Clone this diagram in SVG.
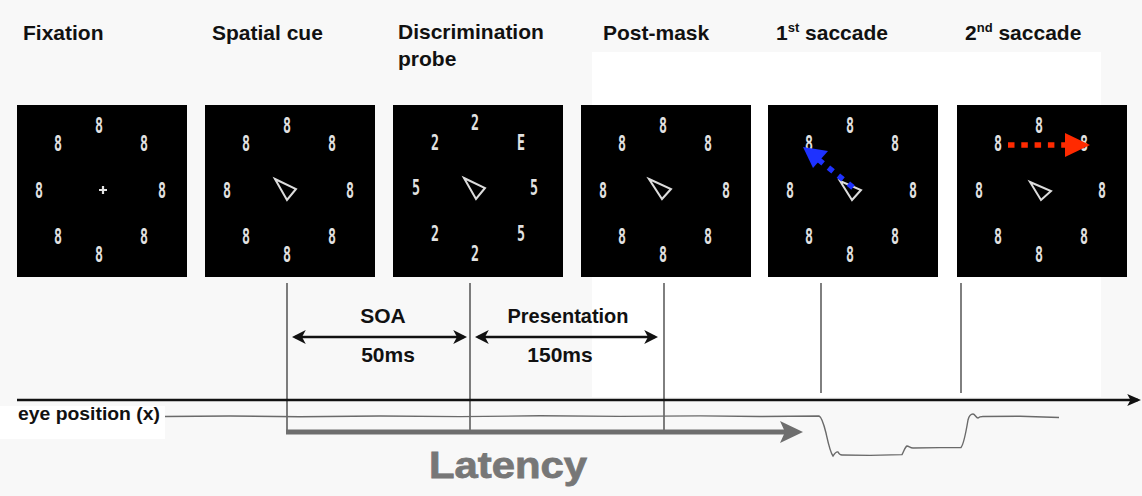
<svg xmlns="http://www.w3.org/2000/svg" width="1142" height="496" viewBox="0 0 1142 496">
<style>
.hdr{font-family:"Liberation Sans",Arial,sans-serif;font-weight:bold;font-size:21px;fill:#111}
.lbl{font-family:"Liberation Sans",Arial,sans-serif;font-weight:bold;font-size:21px;fill:#111;text-anchor:middle}
.dg{font-family:"DejaVu Sans Mono","Liberation Mono",monospace;font-weight:bold;font-size:21px;fill:#e2e2e2;text-anchor:middle}
.panel{fill:#000}
.cue{fill:none;stroke:#dcdcdc;stroke-width:2;stroke-linejoin:miter}
.vl{stroke:#2a2a2a;stroke-width:1.2}
</style>
<defs>
<marker id="hd" markerUnits="userSpaceOnUse" markerWidth="14" markerHeight="14" viewBox="0 0 13 13" refX="10" refY="6.5" orient="auto-start-reverse">
<path d="M0,0 L13,6.5 L0,13 L3.5,6.5 z" fill="#111"/>
</marker>
<marker id="ax" markerUnits="userSpaceOnUse" markerWidth="14" markerHeight="12" viewBox="0 0 13 11" refX="10" refY="5.5" orient="auto">
<path d="M0,0 L13,5.5 L0,11 L3,5.5 z" fill="#111"/>
</marker>
</defs>
<rect width="1142" height="496" fill="#f8f8f8"/>
<rect x="592" y="52" width="509" height="345" fill="#ffffff"/>
<rect x="0" y="406" width="165" height="33" fill="#ffffff"/>

<g id="headers">
<text class="hdr" x="23" y="40">Fixation</text>
<text class="hdr" x="212" y="40">Spatial cue</text>
<text class="hdr" x="398" y="39">Discrimination</text>
<text class="hdr" x="398" y="66">probe</text>
<text class="hdr" x="603" y="40">Post-mask</text>
<text class="hdr" x="776" y="40">1<tspan font-size="13" dy="-8">st</tspan><tspan dy="8"> saccade</tspan></text>
<text class="hdr" x="965" y="40">2<tspan font-size="13" dy="-8">nd</tspan><tspan dy="8"> saccade</tspan></text>
</g>

<g id="panel-fixation" transform="translate(17,105)">
<rect class="panel" width="170" height="172"/>
<text class="dg" x="82" y="28" textLength="8" lengthAdjust="spacingAndGlyphs">8</text>
<text class="dg" x="41" y="46" textLength="8" lengthAdjust="spacingAndGlyphs">8</text>
<text class="dg" x="127" y="46" textLength="8" lengthAdjust="spacingAndGlyphs">8</text>
<text class="dg" x="22" y="93" textLength="8" lengthAdjust="spacingAndGlyphs">8</text>
<text class="dg" x="145" y="93" textLength="8" lengthAdjust="spacingAndGlyphs">8</text>
<text class="dg" x="41" y="139" textLength="8" lengthAdjust="spacingAndGlyphs">8</text>
<text class="dg" x="127" y="139" textLength="8" lengthAdjust="spacingAndGlyphs">8</text>
<text class="dg" x="82" y="157" textLength="8" lengthAdjust="spacingAndGlyphs">8</text>
<path d="M82,85 H90 M86,81 V89" stroke="#e2e2e2" stroke-width="2.2"/>
</g>

<g id="panel-cue" transform="translate(205,105)">
<rect class="panel" width="170" height="172"/>
<text class="dg" x="82" y="28" textLength="8" lengthAdjust="spacingAndGlyphs">8</text>
<text class="dg" x="41" y="46" textLength="8" lengthAdjust="spacingAndGlyphs">8</text>
<text class="dg" x="127" y="46" textLength="8" lengthAdjust="spacingAndGlyphs">8</text>
<text class="dg" x="22" y="93" textLength="8" lengthAdjust="spacingAndGlyphs">8</text>
<text class="dg" x="145" y="93" textLength="8" lengthAdjust="spacingAndGlyphs">8</text>
<text class="dg" x="41" y="139" textLength="8" lengthAdjust="spacingAndGlyphs">8</text>
<text class="dg" x="127" y="139" textLength="8" lengthAdjust="spacingAndGlyphs">8</text>
<text class="dg" x="82" y="157" textLength="8" lengthAdjust="spacingAndGlyphs">8</text>
<polygon class="cue" points="70,74 91,84 82,95"/>
</g>

<g id="panel-probe" transform="translate(393,105)">
<rect class="panel" width="170" height="172"/>
<text class="dg" x="82" y="25" textLength="8" lengthAdjust="spacingAndGlyphs">2</text>
<text class="dg" x="42" y="45" textLength="8" lengthAdjust="spacingAndGlyphs">2</text>
<text class="dg" x="128" y="45" textLength="8" lengthAdjust="spacingAndGlyphs">E</text>
<text class="dg" x="23" y="90" textLength="8" lengthAdjust="spacingAndGlyphs">5</text>
<text class="dg" x="141" y="90" textLength="8" lengthAdjust="spacingAndGlyphs">5</text>
<text class="dg" x="42" y="136" textLength="8" lengthAdjust="spacingAndGlyphs">2</text>
<text class="dg" x="128" y="136" textLength="8" lengthAdjust="spacingAndGlyphs">5</text>
<text class="dg" x="82" y="156" textLength="8" lengthAdjust="spacingAndGlyphs">2</text>
<polygon class="cue" points="71,73 92,83 83,94"/>
</g>

<g id="panel-postmask" transform="translate(581,105)">
<rect class="panel" width="170" height="172"/>
<text class="dg" x="82" y="28" textLength="8" lengthAdjust="spacingAndGlyphs">8</text>
<text class="dg" x="41" y="46" textLength="8" lengthAdjust="spacingAndGlyphs">8</text>
<text class="dg" x="127" y="46" textLength="8" lengthAdjust="spacingAndGlyphs">8</text>
<text class="dg" x="22" y="93" textLength="8" lengthAdjust="spacingAndGlyphs">8</text>
<text class="dg" x="145" y="93" textLength="8" lengthAdjust="spacingAndGlyphs">8</text>
<text class="dg" x="41" y="139" textLength="8" lengthAdjust="spacingAndGlyphs">8</text>
<text class="dg" x="127" y="139" textLength="8" lengthAdjust="spacingAndGlyphs">8</text>
<text class="dg" x="82" y="157" textLength="8" lengthAdjust="spacingAndGlyphs">8</text>
<polygon class="cue" points="68,74 90,84 81,94"/>
</g>

<g id="panel-saccade1" transform="translate(768,105)">
<rect class="panel" width="170" height="172"/>
<text class="dg" x="82" y="28" textLength="8" lengthAdjust="spacingAndGlyphs">8</text>
<text class="dg" x="41" y="46" textLength="8" lengthAdjust="spacingAndGlyphs">8</text>
<text class="dg" x="127" y="46" textLength="8" lengthAdjust="spacingAndGlyphs">8</text>
<text class="dg" x="22" y="93" textLength="8" lengthAdjust="spacingAndGlyphs">8</text>
<text class="dg" x="145" y="93" textLength="8" lengthAdjust="spacingAndGlyphs">8</text>
<text class="dg" x="41" y="139" textLength="8" lengthAdjust="spacingAndGlyphs">8</text>
<text class="dg" x="127" y="139" textLength="8" lengthAdjust="spacingAndGlyphs">8</text>
<text class="dg" x="82" y="157" textLength="8" lengthAdjust="spacingAndGlyphs">8</text>
<polygon class="cue" points="72,76 93,85 84,95"/>
<line x1="85" y1="82.5" x2="50" y2="54.2" stroke="#1e32ff" stroke-width="5.5" stroke-dasharray="6 6.8"/>
<polygon points="35,42 60,46 45,63" fill="#1e32ff"/>
</g>

<g id="panel-saccade2" transform="translate(957,105)">
<rect class="panel" width="170" height="172"/>
<text class="dg" x="82" y="28" textLength="8" lengthAdjust="spacingAndGlyphs">8</text>
<text class="dg" x="41" y="46" textLength="8" lengthAdjust="spacingAndGlyphs">8</text>
<text class="dg" x="127" y="46" textLength="8" lengthAdjust="spacingAndGlyphs">8</text>
<text class="dg" x="22" y="93" textLength="8" lengthAdjust="spacingAndGlyphs">8</text>
<text class="dg" x="145" y="93" textLength="8" lengthAdjust="spacingAndGlyphs">8</text>
<text class="dg" x="41" y="139" textLength="8" lengthAdjust="spacingAndGlyphs">8</text>
<text class="dg" x="127" y="139" textLength="8" lengthAdjust="spacingAndGlyphs">8</text>
<text class="dg" x="82" y="157" textLength="8" lengthAdjust="spacingAndGlyphs">8</text>
<polygon class="cue" points="73,77 94,86 84,95"/>
<line x1="51" y1="40" x2="110" y2="40" stroke="#ff2a00" stroke-width="5.5" stroke-dasharray="6.5 6.8"/>
<polygon points="108,28 133,40 108,52" fill="#ff2a00"/>
</g>

<g id="connectors">
<line class="vl" x1="287" y1="283" x2="287" y2="432"/>
<line class="vl" x1="470" y1="283" x2="470" y2="432"/>
<line class="vl" x1="664" y1="283" x2="664" y2="432"/>
<line class="vl" x1="821" y1="283" x2="821" y2="393"/>
<line class="vl" x1="961" y1="283" x2="961" y2="393"/>
<line x1="295" y1="337" x2="464" y2="337" stroke="#111" stroke-width="2.5" marker-start="url(#hd)" marker-end="url(#hd)"/>
<line x1="478" y1="337" x2="655" y2="337" stroke="#111" stroke-width="2.5" marker-start="url(#hd)" marker-end="url(#hd)"/>
<line x1="17" y1="400" x2="1138" y2="400" stroke="#111" stroke-width="2.5" marker-end="url(#ax)"/>
<path d="M165,416.5 L230,416 L300,416.8 L380,416 L460,416.6 L540,415.8 L620,416.4 L700,415.9 L760,416.5 L819,416 C822,417 824,425 826,433 C828,442 830,452 833,456 C835,453 836,451 838,452 C839,454 840,455 842,455 L870,455.4 L902,454.6 C904,451 905,447 907,446 C909,446 910,448 913,448 L940,447.6 L961,447.5 C964,444 966,432 968,420 C969,416 971,414 973,414 C975,414 976,418 978,418 C979,417 980,416.5 983,416.5 L1020,416.2 L1059,417.5" fill="none" stroke="#6a6a6a" stroke-width="1.4"/>
<line x1="286" y1="432" x2="786" y2="432" stroke="#6e6e6e" stroke-width="5"/>
<polygon points="780,421 803,432 780,443 785,432" fill="#6e6e6e"/>
</g>

<g id="labels">
<text class="lbl" x="383" y="323">SOA</text>
<text class="lbl" x="388" y="362">50ms</text>
<text class="lbl" x="568" y="323" textLength="121" lengthAdjust="spacingAndGlyphs">Presentation</text>
<text class="lbl" x="560" y="362">150ms</text>
<text x="18" y="420" font-family="Liberation Sans, Arial, sans-serif" font-weight="bold" font-size="18" fill="#111" textLength="142" lengthAdjust="spacingAndGlyphs">eye position (x)</text>
<text x="429" y="478" font-family="Liberation Sans, Arial, sans-serif" font-weight="bold" font-size="37" fill="#777" stroke="#777" stroke-width="0.8" textLength="158" lengthAdjust="spacingAndGlyphs">Latency</text>
</g>
</svg>
